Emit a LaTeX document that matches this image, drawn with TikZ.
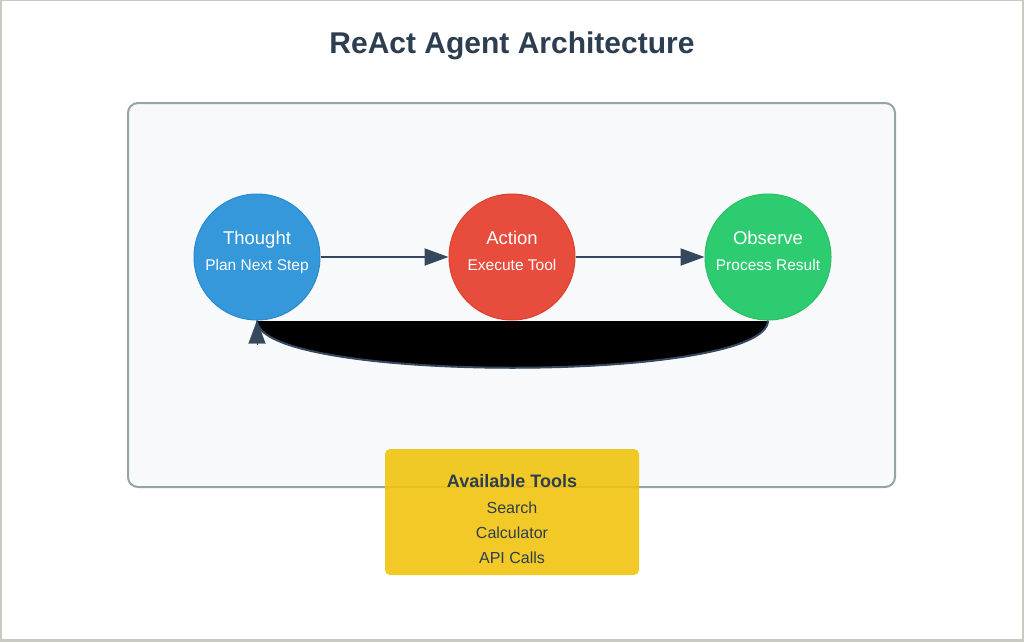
\documentclass[tikz,border=0pt]{standalone}
\usepackage{fontspec}
\setmainfont{Liberation Sans}
\usetikzlibrary{arrows.meta}
\definecolor{dark}{HTML}{2C3E50}
\definecolor{arrowc}{HTML}{34495E}
\definecolor{panelfill}{HTML}{F8F9FA}
\definecolor{panelline}{HTML}{95A5A6}
\definecolor{framec}{HTML}{C9CABE}
\definecolor{bluef}{HTML}{3498DB}
\definecolor{blued}{HTML}{2A8AD0}
\definecolor{redf}{HTML}{E74C3C}
\definecolor{redd}{HTML}{D9432F}
\definecolor{greenf}{HTML}{2ECC71}
\definecolor{greend}{HTML}{28BF66}
\definecolor{toolf}{HTML}{F1C40F}
\tikzset{
  stage/.style={circle, minimum size=126pt, inner sep=0pt, line width=1pt, text=white, align=center},
  flow/.style={line width=2pt, draw=arrowc, -{Triangle[length=24pt,width=17pt]}},
  head/.style={draw=arrowc, fill=arrowc, line width=0.2pt, -{Triangle[length=23pt,width=17pt]}},
  big/.style={anchor=base, inner sep=0pt, text=white, font=\fontsize{18.5}{20}\selectfont},
  small/.style={anchor=base, inner sep=0pt, text=white, font=\fontsize{15.5}{17}\selectfont},
  tool/.style={anchor=base, inner sep=0pt, text=dark, font=\fontsize{16}{18}\selectfont},
}
\begin{document}
\begin{tikzpicture}[x=1pt,y=-1pt]
\useasboundingbox (0,0) rectangle (1024,642);
\fill[framec] (0,0) rectangle (1024,642);
\fill[white] (1.5,1) rectangle (1022,639);
\node[anchor=base, inner sep=0pt, text=dark, font=\fontsize{30}{34}\selectfont\bfseries] (title) at (512,53) {ReAct Agent Architecture};
\draw[draw=panelline, fill=panelfill, line width=2pt, rounded corners=10pt] (128,103) rectangle (895,487);
\node[stage, fill=bluef, draw=blued] (th) at (257,257) {};
\node[stage, fill=redf, draw=redd] (ac) at (512,257) {};
\node[stage, fill=greenf, draw=greend] (ob) at (768,257) {};
\node[big] (thA) at (257,244.5) {Thought};
\node[small] (thB) at (257,270) {Plan Next Step};
\node[big] (acA) at (512,244.5) {Action};
\node[small] (acB) at (512,270) {Execute Tool};
\node[big] (obA) at (768,244.5) {Observe};
\node[small] (obB) at (768,270) {Process Result};
\draw[flow] (th.east) -- (ac.west);
\draw[flow] (ac.east) -- (ob.west);
\fill[black] (ob.south) .. controls +(0,63) and +(0,63) .. (th.south) -- cycle;
\draw[line width=2pt, draw=arrowc] (ob.south) .. controls +(0,63) and +(0,63) .. (th.south);
\path (th.south) ++(0,24) coordinate (hb);
\draw[head] (hb) -- (th.south);
\fill[toolf, fill opacity=0.9, rounded corners=5pt] (385,449) rectangle (639,575);
\node[anchor=base, inner sep=0pt, text=dark, font=\fontsize{18}{20}\selectfont\bfseries] (tools) at (512,487) {Available Tools};
\node[tool] (t1) at (512,513) {Search};
\node[tool] (t2) at (512,538) {Calculator};
\node[tool] (t3) at (512,563) {API Calls};
\end{tikzpicture}
\end{document}
